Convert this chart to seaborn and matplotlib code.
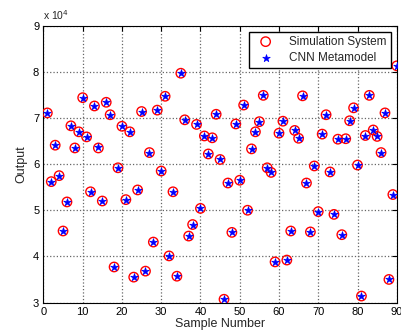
import numpy as np
import pandas as pd
import seaborn as sns
import matplotlib.pyplot as plt
from matplotlib.ticker import FuncFormatter

# sample index 1..90
sample_number = list(range(1, 91))

# simulation system output (units of 1e4)
simulation = [7.11, 5.62, 6.41, 5.75, 4.55, 5.18, 6.83, 6.35, 6.70, 7.44,
              6.59, 5.40, 7.26, 6.35, 5.20, 7.34, 7.07, 3.77, 5.92, 6.82,
              5.23, 6.70, 3.55, 5.44, 7.14, 3.68, 6.25, 4.31, 7.17, 5.85,
              7.47, 4.01, 5.40, 3.57, 7.97, 6.96, 4.44, 4.69, 6.86, 5.04,
              6.61, 6.22, 6.57, 7.08, 6.10, 3.07, 5.59, 4.52, 6.87, 5.65,
              7.28, 5.00, 6.33, 6.70, 6.92, 7.49, 5.92, 5.82, 3.88, 6.67,
              6.93, 3.92, 4.55, 6.73, 6.56, 7.48, 5.59, 4.53, 5.96, 4.97,
              6.65, 7.07, 5.83, 4.91, 6.54, 4.47, 6.55, 6.94, 7.22, 5.98,
              3.14, 6.62, 7.49, 6.74, 6.60, 6.25, 7.11, 3.50, 5.34, 8.13]

# CNN metamodel prediction (visually indistinguishable from simulation)
cnn = [7.10, 5.62, 6.41, 5.75, 4.56, 5.18, 6.82, 6.35, 6.70, 7.44,
       6.59, 5.40, 7.26, 6.36, 5.21, 7.34, 7.06, 3.78, 5.92, 6.82,
       5.23, 6.70, 3.55, 5.44, 7.14, 3.68, 6.25, 4.31, 7.17, 5.85,
       7.47, 4.01, 5.40, 3.58, 7.97, 6.96, 4.44, 4.69, 6.86, 5.04,
       6.61, 6.22, 6.57, 7.08, 6.10, 3.07, 5.59, 4.52, 6.87, 5.65,
       7.28, 5.00, 6.33, 6.70, 6.92, 7.49, 5.92, 5.82, 3.88, 6.67,
       6.93, 3.92, 4.55, 6.73, 6.56, 7.48, 5.59, 4.53, 5.96, 4.97,
       6.65, 7.07, 5.83, 4.91, 6.54, 4.47, 6.55, 6.94, 7.22, 5.98,
       3.14, 6.62, 7.49, 6.74, 6.60, 6.25, 7.11, 3.50, 5.34, 8.13]

df = pd.DataFrame({'sample': sample_number,
                   'sim': np.array(simulation) * 1e4,
                   'cnn': np.array(cnn) * 1e4})

sns.set_style('white')
plt.rcParams['font.family'] = ['Liberation Sans', 'DejaVu Sans']

fig = plt.figure(figsize=(4.02, 3.36), dpi=100)
ax = fig.add_axes([0.108, 0.0997, 0.879, 0.8238])

sns.scatterplot(data=df, x='sample', y='sim', ax=ax, marker='o', s=46,
                facecolor='none', edgecolor='red', linewidth=1.0,
                label='Simulation System', zorder=3)
sns.scatterplot(data=df, x='sample', y='cnn', ax=ax, marker='*', s=32,
                color='blue', edgecolor='blue', linewidth=0.5,
                label='CNN Metamodel', zorder=4)

ax.set_xlim(0, 90)
ax.set_ylim(3e4, 9e4)
ax.set_xticks(range(0, 91, 10))
ax.set_yticks(np.arange(3e4, 9.1e4, 1e4))
ax.yaxis.set_major_formatter(FuncFormatter(lambda v, p: f'{v/1e4:g}'))

ax.grid(True, linestyle=':', color='#666666', linewidth=0.9)
ax.set_axisbelow(True)
for sp in ax.spines.values():
    sp.set_color('black')
    sp.set_linewidth(0.8)
ax.tick_params(direction='in', top=True, right=True, length=3.5,
               width=0.8, labelsize=8, colors='black', pad=3)

ax.set_xlabel('Sample Number', fontsize=9, labelpad=1)
ax.set_ylabel('Output', fontsize=9, labelpad=4)
ax.text(0.0, 1.012, r'x 10$^4$', transform=ax.transAxes, fontsize=7.5,
        ha='left', va='bottom')

leg = ax.legend(loc='upper right', fontsize=8.5, frameon=True, fancybox=False,
                edgecolor='black', framealpha=1, borderpad=0.35,
                handlelength=2.2, handletextpad=0.9, borderaxespad=0.5,
                labelspacing=0.35)
leg.get_frame().set_linewidth(1.0)

fig.savefig('out.png', dpi=100)
